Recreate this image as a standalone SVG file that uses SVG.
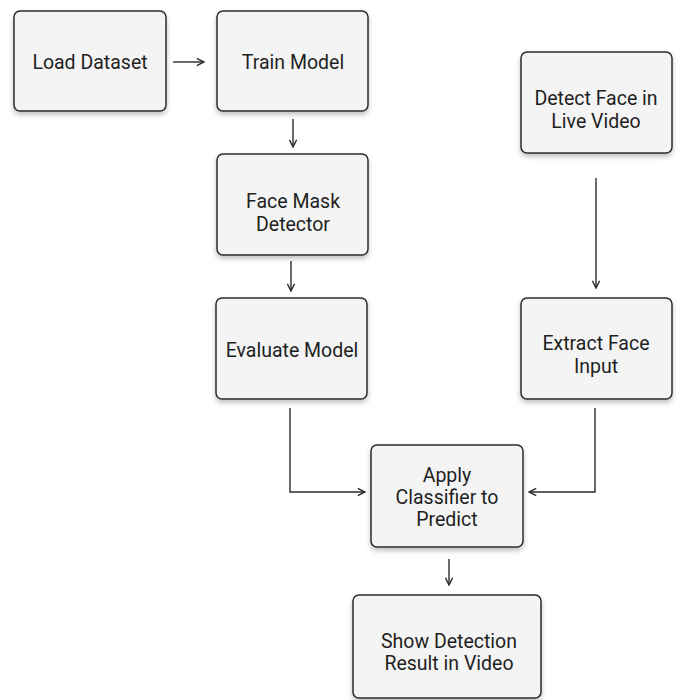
<svg xmlns="http://www.w3.org/2000/svg" width="680" height="700" viewBox="0 0 680 700">
<style>
.box{fill:#f4f4f4;stroke:#2b2b2b;stroke-width:1.5;filter:url(#sh)}
.t{font-family:Roboto,"Liberation Sans",sans-serif;font-size:19.5px;fill:#1f1f1f;text-anchor:middle}
.c{fill:none;stroke:#2b2b2b;stroke-width:1.4;marker-end:url(#ah)}
</style>
<defs>
<filter id="sh" x="-10%" y="-10%" width="120%" height="130%">
<feDropShadow dx="0" dy="3" stdDeviation="2.5" flood-color="#000" flood-opacity="0.25"/>
</filter>
<marker id="ah" viewBox="0 0 10 10" refX="9" refY="5" markerWidth="9" markerHeight="9" markerUnits="userSpaceOnUse" orient="auto">
<path d="M1,1 L9,5 L1,9" fill="none" stroke="#2b2b2b" stroke-width="1.6"/>
</marker>
</defs>
<rect width="680" height="700" fill="#fff"/>
<g id="connectors">
<path class="c" d="M173,62 H204"/>
<path class="c" d="M293,119 V147"/>
<path class="c" d="M291,261 V291"/>
<path class="c" d="M596,178 V288"/>
<path class="c" d="M290,408 V492 H365"/>
<path class="c" d="M595,408 V492 H529"/>
<path class="c" d="M449,559 V585"/>
</g>
<g id="load-dataset"><rect class="box" x="14" y="11" width="152" height="100" rx="6"/><text class="t" x="90" y="69">Load Dataset</text></g>
<g id="train-model"><rect class="box" x="217" y="11" width="151" height="100" rx="6"/><text class="t" x="293" y="69">Train Model</text></g>
<g id="face-mask-detector"><rect class="box" x="217" y="154" width="151" height="101" rx="6"/><text class="t" x="293" y="208">Face Mask</text><text class="t" x="293" y="231">Detector</text></g>
<g id="evaluate-model"><rect class="box" x="216" y="298" width="151" height="101" rx="6"/><text class="t" x="292" y="357">Evaluate Model</text></g>
<g id="detect-face"><rect class="box" x="521" y="52" width="151" height="101" rx="6"/><text class="t" x="596" y="105">Detect Face in</text><text class="t" x="596" y="128">Live Video</text></g>
<g id="extract-face"><rect class="box" x="521" y="298" width="151" height="101" rx="6"/><text class="t" x="596" y="350">Extract Face</text><text class="t" x="596" y="373">Input</text></g>
<g id="apply-classifier"><rect class="box" x="371" y="445" width="152" height="102" rx="6"/><text class="t" x="447" y="482">Apply</text><text class="t" x="447" y="504">Classifier to</text><text class="t" x="447" y="526">Predict</text></g>
<g id="show-detection"><rect class="box" x="353" y="595" width="188" height="103" rx="6"/><text class="t" x="449" y="648">Show Detection</text><text class="t" x="449" y="670">Result in Video</text></g>
</svg>
